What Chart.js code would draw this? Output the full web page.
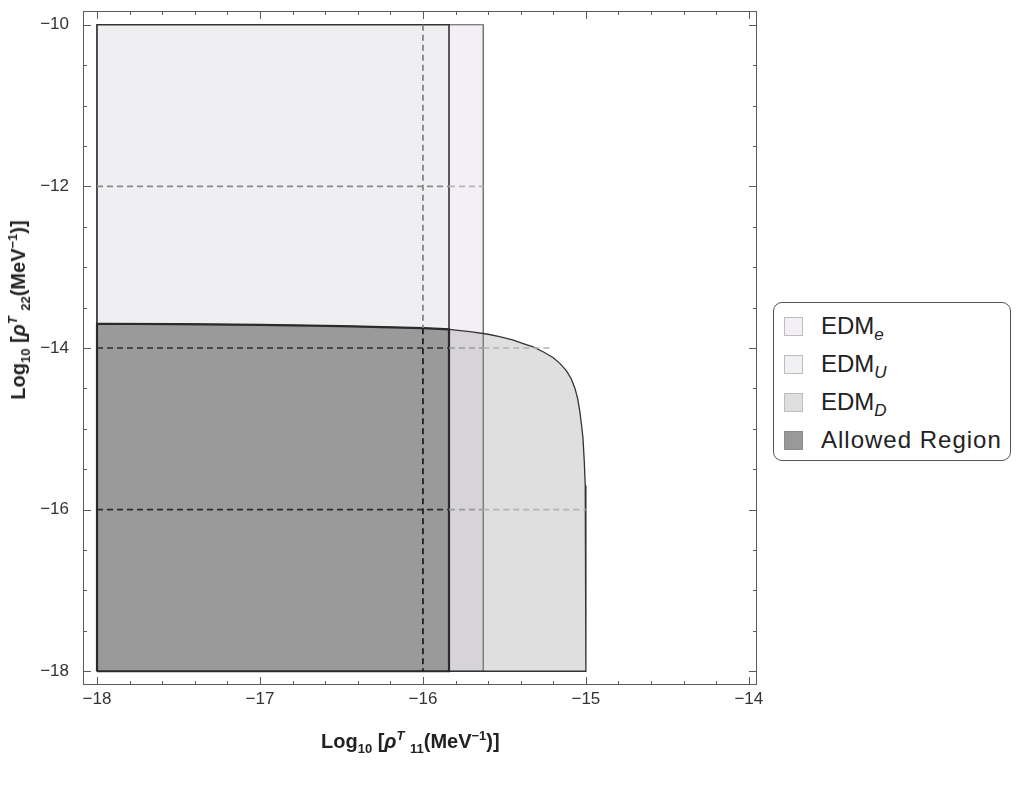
<!DOCTYPE html>
<html>
<head>
<meta charset="utf-8">
<script src="https://cdn.jsdelivr.net/npm/chart.js@4.4.0/dist/chart.umd.min.js"></script>
<style>
html,body{margin:0;padding:0;background:#fff;}
#wrap{position:relative;width:1036px;height:785px;overflow:hidden;}
#c{position:absolute;left:0;top:0;}
.ttl{position:absolute;font-family:"Liberation Sans",Arial,sans-serif;font-weight:bold;font-size:20px;color:#222;white-space:nowrap;line-height:1;}
.ttl sub,.ttl sup{font-size:13px;line-height:0;}
#xt{left:321px;top:731px;}
#yt{left:18px;top:310px;transform:translate(-50%,-50%) rotate(-90deg);}
#legend{position:absolute;left:773px;top:302px;width:236px;height:157px;border:1.5px solid #555;border-radius:9px;background:#fff;font-family:"Liberation Sans",Arial,sans-serif;font-size:24px;color:#222;}
.row{position:absolute;left:0;height:38px;width:100%;}
.sw{position:absolute;left:10px;top:9px;width:19px;height:19px;box-sizing:border-box;border:1px solid #bdbdbd;}
.lb{position:absolute;left:47px;top:5px;white-space:nowrap;line-height:1.1;}
.lb.wide{letter-spacing:1px;}
.lb sub{font-size:17px;font-style:italic;line-height:0;}
</style>
</head>
<body>
<div id="wrap">
<canvas id="c" width="1036" height="785"></canvas>
<div class="ttl" id="xt">Log<sub>10</sub> [<i>ρ</i><sup><i>T</i></sup> <sub>11</sub>(MeV<sup>−1</sup>)]</div>
<div class="ttl" id="yt">Log<sub>10</sub> [<i>ρ</i><sup><i>T</i></sup> <sub>22</sub>(MeV<sup>−1</sup>)]</div>
<div id="legend"></div>
</div>
<script>
// ---------- data ----------
const xMajorTicks = [-18, -17, -16, -15, -14];
const yMajorTicks = [-18, -16, -14, -12, -10];
const seriesNames = ['EDM', 'EDM', 'EDM', 'Allowed Region'];
const seriesSubs = ['e', 'U', 'D', ''];

// EDM_e bound (rectangle)
const edmE_x = [-18, -15.63, -15.63, -18, -18];
const edmE_y = [-18, -18, -10, -10, -18];
// EDM_U bound (rectangle)
const edmU_x = [-18, -15.84, -15.84, -18, -18];
const edmU_y = [-18, -18, -10, -10, -18];
// EDM_D bound (curved region)
const edmD_x = [-18, -18, -17.5, -17, -16.5, -16, -15.84, -15.7, -15.6, -15.53, -15.45, -15.38, -15.32, -15.26, -15.2, -15.16, -15.12, -15.09, -15.067, -15.05, -15.037, -15.027, -15.018, -15.01, -15.004, -15.0, -15.0, -18];
const edmD_y = [-18, -13.70, -13.705, -13.715, -13.73, -13.755, -13.77, -13.80, -13.83, -13.86, -13.90, -13.95, -13.99, -14.05, -14.12, -14.19, -14.28, -14.38, -14.50, -14.63, -14.79, -14.95, -15.11, -15.40, -15.70, -16.00, -18, -18];
// Allowed region (intersection)
const allow_x = [-18, -18, -17.5, -17, -16.5, -16, -15.84, -15.84, -18];
const allow_y = [-18, -13.70, -13.705, -13.715, -13.73, -13.755, -13.77, -18, -18];

// dashed grid lines
const hGridY = [-12, -14, -16];
const hGridBreaks = [[-18, -15.84, -15.63], [-18, -15.84, -15.63, -15.22], [-18, -15.84, -15.63, -15.0]];
const vGridX = [-16];
const vGridBreaks = [-10, -13.755, -18];

// ---------- build ----------
const pts = (xs, ys) => xs.map((x, i) => ({x: x, y: ys[i]}));
const area = (label, xs, ys, fillC, lineC, lw, ord) => ({
  label: label, data: pts(xs, ys), showLine: true, fill: 'shape',
  backgroundColor: fillC, borderColor: lineC, borderWidth: lw,
  pointRadius: 0, pointHoverRadius: 0, tension: 0, order: ord
});

const datasets = [
  area('EDM_e', edmE_x, edmE_y, '#f4eff6', '#555', 1.2, 10),
  area('EDM_U', edmU_x, edmU_y, '#efeef1', '#333', 1.6, 9),
  area('EDM_D', edmD_x, edmD_y, 'rgba(150,150,150,0.30)', '#333', 1.3, 8),
  area('Allowed Region', allow_x, allow_y, '#9a9a9a', '#2a2a2a', 2.2, 7)
];

const hCol = (y, x0) => {
  if (y === -12) return x0 < -15.84 ? '#8a8a8a' : '#b5b5b5';
  if (x0 < -15.84) return '#2e2e2e';
  if (x0 < -15.63) return '#999999';
  return '#b3b3b3';
};
hGridY.forEach((y, k) => {
  const xs = hGridBreaks[k];
  datasets.push({
    label: 'grid', data: xs.map(x => ({x: x, y: y})), showLine: true, fill: false,
    borderColor: '#444', borderWidth: 1.6, borderDash: [6, 4], pointRadius: 0, order: 1,
    segment: {borderColor: ctx => hCol(y, ctx.p0.parsed.x)}
  });
});
vGridX.forEach(x => {
  datasets.push({
    label: 'grid', data: vGridBreaks.map(y => ({x: x, y: y})), showLine: true, fill: false,
    borderColor: '#444', borderWidth: 1.8, borderDash: [6, 4], pointRadius: 0, order: 1,
    segment: {borderColor: ctx => ctx.p1.parsed.y > -13.76 ? '#858585' : '#1e1e1e'}
  });
});

// legend (HTML text)
const swCols = ['#f4eff6', '#f1f1f3', '#dedede', '#999999'];
const lg = document.getElementById('legend');
seriesNames.forEach((n, i) => {
  const r = document.createElement('div');
  r.className = 'row';
  r.style.top = (5 + i * 38) + 'px';
  r.innerHTML = '<span class="sw" style="background:' + swCols[i] + (i === 3 ? ';border-color:#8a8a8a' : '') + '"></span>' +
    '<span class="lb' + (seriesSubs[i] ? '' : ' wide') + '">' + n + (seriesSubs[i] ? '<sub>' + seriesSubs[i] + '</sub>' : '') + '</span>';
  lg.appendChild(r);
});

const fmt = v => (v < 0 ? '\u2212' : '') + Math.abs(v);

const framePlugin = {
  id: 'frame',
  afterDraw(chart) {
    const c = chart.ctx, a = chart.chartArea, sx = chart.scales.x, sy = chart.scales.y;
    c.save();
    c.strokeStyle = '#5a5a5a';
    c.lineWidth = 1;
    c.strokeRect(a.left + 0.5, a.top + 0.5, a.right - a.left - 1, a.bottom - a.top - 1);
    c.beginPath();
    for (let k = 0; k <= 20; k++) {
      const v = xMajorTicks[0] + k * 0.2;
      const p = Math.round(sx.getPixelForValue(v)) + 0.5;
      const L = (k % 5 === 0) ? 8 : 4;
      c.moveTo(p, a.bottom); c.lineTo(p, a.bottom - L);
      c.moveTo(p, a.top); c.lineTo(p, a.top + L);
    }
    for (let k = 0; k <= 16; k++) {
      const v = yMajorTicks[0] + k * 0.5;
      const p = Math.round(sy.getPixelForValue(v)) + 0.5;
      const L = (k % 4 === 0) ? 8 : 4;
      c.moveTo(a.left, p); c.lineTo(a.left + L, p);
      c.moveTo(a.right, p); c.lineTo(a.right - L, p);
    }
    c.stroke();
    c.restore();
  }
};

new Chart(document.getElementById('c'), {
  type: 'scatter',
  data: {datasets: datasets},
  options: {
    responsive: false, animation: false, devicePixelRatio: 1,
    layout: {padding: {left: 0, right: 279, top: 11, bottom: 0}},
    plugins: {legend: {display: false}, tooltip: {enabled: false}},
    scales: {
      x: {
        type: 'linear', position: 'bottom', min: -18.086, max: -13.95,
        grid: {display: false, drawTicks: false}, border: {display: false},
        afterBuildTicks: s => { s.ticks = xMajorTicks.map(v => ({value: v})); },
        afterFit: s => { s.height = 100; s.paddingLeft = 0; s.paddingRight = 0; },
        ticks: {color: '#333', padding: 4, autoSkip: false, maxRotation: 0,
          font: {family: '"Liberation Sans", Arial, sans-serif', size: 17}, callback: fmt}
      },
      y: {
        type: 'linear', position: 'left', min: -18.17, max: -9.83,
        grid: {display: false, drawTicks: false}, border: {display: false},
        afterBuildTicks: s => { s.ticks = yMajorTicks.map(v => ({value: v})); },
        afterFit: s => { s.width = 83; s.paddingTop = 0; s.paddingBottom = 0; },
        ticks: {color: '#333', padding: 14, autoSkip: false,
          font: {family: '"Liberation Sans", Arial, sans-serif', size: 17}, callback: fmt}
      }
    }
  },
  plugins: [framePlugin]
});
</script>
</body>
</html>
